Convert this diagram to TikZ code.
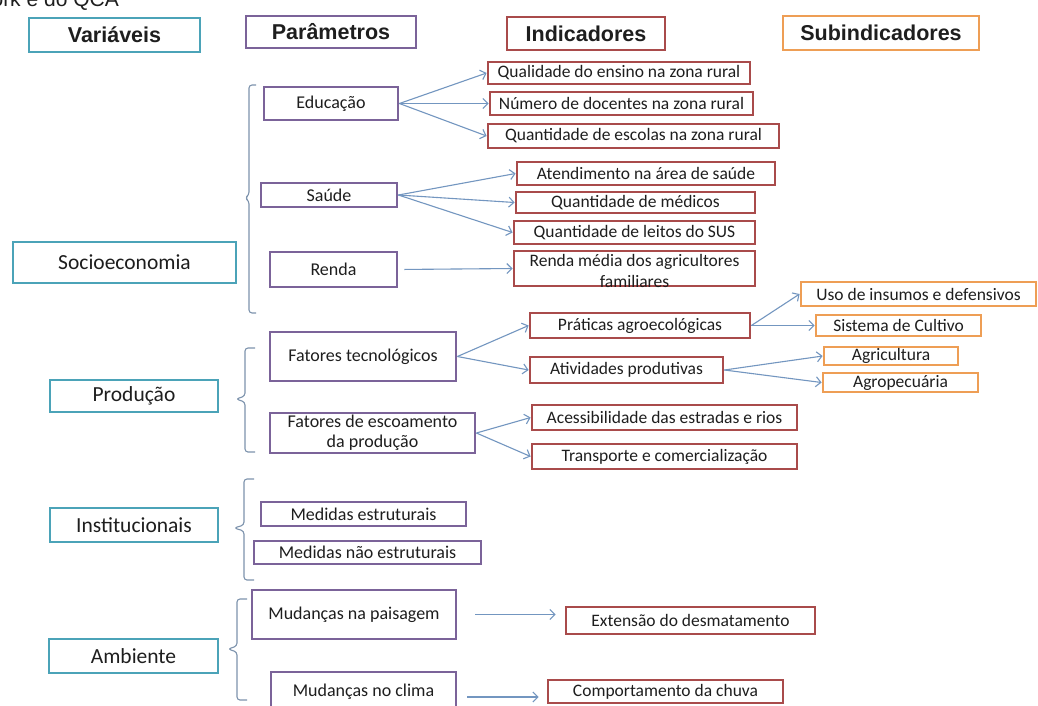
\documentclass[tikz,border=0pt]{standalone}
\usepackage{fontspec}
\setmainfont{Carlito}
\newfontfamily\headfont{Liberation Sans}
\usetikzlibrary{arrows.meta,calc}

\definecolor{varc}{HTML}{4BA3B8}
\definecolor{parc}{HTML}{7B6399}
\definecolor{indc}{HTML}{A94B4B}
\definecolor{subc}{HTML}{EE9E55}
\definecolor{arrc}{HTML}{7396C0}
\definecolor{brc}{HTML}{7D93AD}
\definecolor{txtc}{HTML}{1E1E1E}

\begin{document}
\begin{tikzpicture}[x=1pt,y=-1pt,
  box/.style={draw, line width=2.8pt, fill=white, inner sep=0pt, text=txtc},
  head/.style={box, font=\headfont\bfseries\fontsize{21.5}{24}\selectfont},
  var/.style={box, draw=varc, font=\fontsize{21.5}{24}\selectfont},
  par/.style={box, draw=parc, font=\fontsize{18}{20}\selectfont, align=center},
  ind/.style={box, draw=indc, font=\fontsize{17.5}{20}\selectfont, align=center},
  sub/.style={box, draw=subc, font=\fontsize{17.5}{20}\selectfont},
  arr/.style={draw=arrc, line width=1.1pt, -{Straight Barb[length=5pt,width=10pt]}},
  brk/.style={draw=brc, line width=1.1pt, line join=round, rounded corners=3pt},
  sz/.style 2 args={minimum width=#1pt, minimum height=#2pt}
]
\fill[white] (0,0) rectangle (1038,705);
\useasboundingbox (0,0) rectangle (1038,705);

% caption line running in from above
\node[anchor=base east, inner sep=0pt, text=txtc,
      font=\headfont\fontsize{21}{24}\selectfont] (cap) at (119,6) {work e do QCA};

% column headings
\node[head, draw=varc, sz={171}{34}] (hVar) at (114.5,35) {Variáveis};
\node[head, draw=parc, sz={170}{32}] (hPar) at (331,32) {Parâmetros};
\node[head, draw=indc, sz={158}{33}] (hInd) at (586,33.5) {Indicadores};
\node[head, draw=subc, sz={196}{34}] (hSub) at (881,33) {Subindicadores};

% variables
\node[var, sz={223}{41}] (vSoc) at (124.5,262.5) {Socioeconomia};
\node[var, sz={168}{32}] (vPro) at (134,396) {Produção};
\node[var, sz={168}{34}] (vIns) at (134,525) {Institucionais};
\node[var, sz={169}{34}] (vAmb) at (133.5,656) {Ambiente};

% parameters
\node[par, sz={134}{33}] (pEdu) at (331,103.5) {Educação};
\node[par, sz={136}{24}] (pSau) at (329,195) {Saúde};
\node[par, sz={127}{35}] (pRen) at (333.5,269.5) {Renda};
\node[par, sz={186}{49}] (pTec) at (363,356.5) {Fatores tecnológicos};
\node[par, sz={205}{40}] (pEsc) at (372.5,433) {Fatores de escoamento\\da produção};
\node[par, sz={205}{24}] (pMe1) at (363.5,514) {Medidas estruturais};
\node[par, sz={227}{23}] (pMe2) at (367.5,552.5) {Medidas não estruturais};
\node[par, sz={204}{49}] (pPai) at (354,614.5) {Mudanças na paisagem};
\node[par, sz={185}{40}] (pCli) at (363.5,692) {Mudanças no clima};

% indicators
\node[ind, sz={262}{22}] (i1) at (619,73) {Qualidade do ensino na zona rural};
\node[ind, sz={263}{23}] (i2) at (621.5,103.5) {Número de docentes na zona rural};
\node[ind, sz={291}{24}] (i3) at (633.5,136) {Quantidade de escolas na zona rural};
\node[ind, sz={258}{23}] (i4) at (646,173.5) {Atendimento na área de saúde};
\node[ind, sz={239}{21}] (i5) at (635.5,202.5) {Quantidade de médicos};
\node[ind, sz={241}{23}] (i6) at (634.5,232.5) {Quantidade de leitos do SUS};
\node[ind, sz={241}{35}] (i7) at (634.5,268.5) {};
\node[inner sep=0pt, text=txtc, align=center, font=\fontsize{17.5}{21}\selectfont]
  (i7t) at (634.5,271) {Renda média dos agricultores\\familiares};
\node[ind, sz={220}{25}] (i8) at (640,325.5) {Práticas agroecológicas};
\node[ind, sz={193}{26}] (i9) at (626.5,370) {Atividades produtivas};
\node[ind, sz={265}{25}] (i10) at (664.5,417.5) {Acessibilidade das estradas e rios};
\node[ind, sz={265}{25}] (i11) at (664.5,456.5) {Transporte e comercialização};
\node[ind, sz={249}{27}] (i12) at (690.5,620.5) {Extensão do desmatamento};
\node[ind, sz={235}{23}] (i13) at (665.5,691.5) {Comportamento da chuva};

% sub-indicators
\node[sub, sz={235}{24}] (s1) at (918.5,294) {Uso de insumos e defensivos};
\node[sub, sz={165}{21}] (s2) at (898.5,325.5) {Sistema de Cultivo};
\node[sub, sz={134}{18}] (s3) at (891,356) {Agricultura};
\node[sub, sz={155}{19}] (s4) at (900.5,382.5) {Agropecuária};

% braces grouping the parameters of each variable
\draw[brk] (256,85) -- (249,85) -- (249,195) -- (245,198) -- (249,201) -- (249,313) -- (256,313);
\draw[brk] (255,348) -- (245,348) -- (245,396) -- (236,399) -- (245,402) -- (245,452) -- (255,452);
\draw[brk] (254,479) -- (244,479) -- (244,525) -- (234,528) -- (244,531) -- (244,580) -- (254,580);
\draw[brk] (247,599) -- (237,599) -- (237,646) -- (228,649) -- (237,652) -- (237,700) -- (247,700);

% parameter -> indicator
\draw[arr] (pEdu.east) -- (i1.west);
\draw[arr] (pEdu.east) -- (i2.west);
\draw[arr] (pEdu.east) -- (i3.west);
\draw[arr] (pSau.east) -- (i4.west);
\draw[arr] (pSau.east) -- (i5.west);
\draw[arr] (pSau.east) -- (i6.west);
\draw[arr, shorten <=6pt] (pRen.east) -- (i7.west);
\draw[arr] (pTec.east) -- (i8.west);
\draw[arr] (pTec.east) -- (i9.west);
\draw[arr] (pEsc.east) -- (i10.west);
\draw[arr] (pEsc.east) -- (i11.west);
\draw[arr, shorten <=18pt, shorten >=9pt] (pPai.east) -- (pPai.east -| i12.west);
\draw[arr, shorten <=10pt, shorten >=8pt] ($(pCli.east)+(0,5)$) -- ($(pCli.east -| i13.west)+(0,5)$);

% indicator -> sub-indicator
\draw[arr] (i8.east) -- (s1.west);
\draw[arr] (i8.east) -- (s2.west);
\draw[arr] (i9.east) -- (s3.west);
\draw[arr] (i9.east) -- (s4.west);
\end{tikzpicture}
\end{document}
